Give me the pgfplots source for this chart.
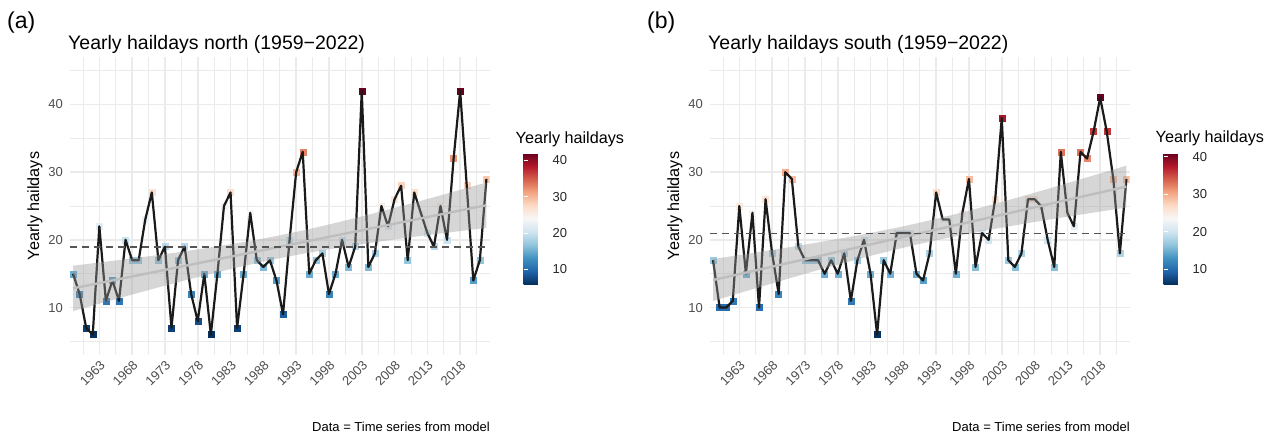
\documentclass[border=0pt]{standalone}
\usepackage{pgfplots}
\pgfplotsset{compat=1.18}
\usepackage{pgfplotstable}
\usepackage{fontspec}
\setmainfont{Liberation Sans}
\definecolor{gridc}{HTML}{EBEBEB}
\definecolor{tickc}{HTML}{4D4D4D}
\definecolor{legc}{HTML}{262626}
\definecolor{linec}{HTML}{1A1A1A}
\definecolor{trendc}{HTML}{BEBEBE}
\definecolor{bandc}{HTML}{999999}
\definecolor{dashc}{HTML}{555555}
\newcommand\fs[1]{\fontsize{#1}{#1}\selectfont}

\pgfplotstableread{
year val
1959 15
1960 12
1961 7
1962 6
1963 22
1964 11
1965 14
1966 11
1967 20
1968 17
1969 17
1970 23
1971 27
1972 17
1973 19
1974 7
1975 17
1976 19
1977 12
1978 8
1979 15
1980 6
1981 15
1982 25
1983 27
1984 7
1985 15
1986 24
1987 17
1988 16
1989 17
1990 14
1991 9
1992 20
1993 30
1994 33
1995 15
1996 17
1997 18
1998 12
1999 15
2000 20
2001 16
2002 19
2003 42
2004 16
2005 18
2006 25
2007 22
2008 26
2009 28
2010 17
2011 27
2012 24
2013 21
2014 19
2015 25
2016 20
2017 32
2018 42
2019 28
2020 14
2021 17
2022 29
}\north

\pgfplotstableread{
year val
1959 17
1960 10
1961 10
1962 11
1963 25
1964 15
1965 24
1966 10
1967 26
1968 18
1969 12
1970 30
1971 29
1972 19
1973 17
1974 17
1975 17
1976 15
1977 17
1978 15
1979 18
1980 11
1981 17
1982 20
1983 15
1984 6
1985 17
1986 15
1987 21
1988 21
1989 21
1990 15
1991 14
1992 18
1993 27
1994 23
1995 23
1996 15
1997 24
1998 29
1999 16
2000 21
2001 20
2002 26
2003 38
2004 17
2005 16
2006 18
2007 26
2008 26
2009 25
2010 20
2011 16
2012 33
2013 24
2014 22
2015 33
2016 32
2017 36
2018 41
2019 36
2020 29
2021 18
2022 29
}\south

\pgfplotsset{
 colormap={rdbu}{rgb255=(5,48,97) rgb255=(33,102,172) rgb255=(67,147,195) rgb255=(146,197,222) rgb255=(209,229,240) rgb255=(247,247,247) rgb255=(253,219,199) rgb255=(244,165,130) rgb255=(214,96,77) rgb255=(178,24,43) rgb255=(103,0,31)},
 panel/.style={
  scale only axis, width=419.9pt, height=298pt, anchor=south west,
  clip marker paths=true,
  xmin=1958.5, xmax=2022.5, ymin=3, ymax=47,
  xtick={1963,1968,...,2018}, minor xtick={1960.5,1965.5,...,2020.5},
  ytick={10,20,30,40}, minor ytick={5,15,...,45},
  grid=both,
  major grid style={draw=gridc, line width=1.6pt},
  minor grid style={draw=gridc, line width=0.8pt},
  axis line style={draw=none},
  major tick length=0pt, minor tick length=0pt,
  xticklabel style={rotate=45, anchor=north east, font=\fs{13}, text=tickc},
  yticklabel style={font=\fs{13}, text=tickc, xshift=-3.5pt},
  /pgf/number format/1000 sep={},
  /pgf/number format/assume math mode=true,
  colormap name=rdbu,
  colorbar,
  colorbar style={
   at={(parent axis.north east)}, anchor=north west, xshift=25.3pt, yshift=-96pt,
   scale only axis, width=22pt, height=131pt,
   ytick={10,20,30,40},
   ytick pos=both, yticklabel pos=right,
   tick align=inside, major tick length=4.5pt,
   ytick style={draw=white, line width=0.8pt},
   axis line style={draw=none},
   yticklabel style={font=\fs{13}, text=legc, xshift=3.5pt},
   /pgf/number format/assume math mode=true,
  },
 },
 pts/.style={scatter, only marks, mark=square*, mark size=3pt,
   scatter src=explicit,
   scatter/use mapped color={draw=mapped color, fill=mapped color}},
 blk/.style={linec, line width=2.2pt, line join=round, mark=none},
 band/.style={draw=none, fill=bandc, fill opacity=0.4},
 trend/.style={trendc, line width=2.4pt},
 mean/.style={dashc, line width=1.6pt, dash pattern=on 7pt off 5pt},
}

\begin{document}
\begin{tikzpicture}
\path[use as bounding box] (0,0) rectangle (1275pt,-437pt);

% ---------------- panel (a)
\begin{axis}[panel, at={(69.8pt,-355pt)}, point meta min=6, point meta max=42]
\addplot[pts] table[x=year, y=val, meta=val] {\north};
\addplot[blk] table[x=year, y=val] {\north};
\addplot[band] coordinates {
 (1959,16.19) (1963,16.66) (1967,17.14) (1971,17.64) (1975,18.17) (1979,18.74)
 (1983,19.35) (1987,20.02) (1990.5,20.67) (1994,21.38) (1998,22.27) (2002,23.22)
 (2006,24.21) (2010,25.24) (2014,26.30) (2018,27.38) (2022,28.47)
 (2022,21.77) (2018,21.30) (2014,20.82) (2010,20.32) (2006,19.79) (2002,19.22)
 (1998,18.61) (1994,17.94) (1990.5,17.29) (1987,16.58) (1983,15.69) (1979,14.74)
 (1975,13.75) (1971,12.72) (1967,11.66) (1963,10.58) (1959,9.49)} -- cycle;
\addplot[trend] coordinates {(1959,12.84) (2022,25.12)};
\addplot[mean] coordinates {(1958.5,18.98) (2022.5,18.98)};
\end{axis}

% ---------------- panel (b)
\begin{axis}[panel, at={(709.8pt,-355pt)}, point meta min=6, point meta max=41]
\addplot[pts] table[x=year, y=val, meta=val] {\south};
\addplot[blk] table[x=year, y=val] {\south};
\addplot[band] coordinates {
 (1959,17.17) (1963,17.76) (1967,18.36) (1971,18.98) (1975,19.63) (1979,20.30)
 (1983,21.02) (1987,21.80) (1990.5,22.54) (1994,23.34) (1998,24.30) (2002,25.34)
 (2006,26.41) (2010,27.52) (2014,28.66) (2018,29.80) (2022,30.97)
 (2022,24.77) (2018,24.18) (2014,23.58) (2010,22.96) (2006,22.31) (2002,21.64)
 (1998,20.92) (1994,20.14) (1990.5,19.40) (1987,18.60) (1983,17.64) (1979,16.60)
 (1975,15.53) (1971,14.42) (1967,13.28) (1963,12.14) (1959,10.97)} -- cycle;
\addplot[trend] coordinates {(1959,14.07) (2022,27.87)};
\addplot[mean] coordinates {(1958.5,20.97) (2022.5,20.97)};
\end{axis}

% ---------------- texts
\begin{scope}[every node/.style={inner sep=0pt}]
\node[anchor=base west, font=\fs{23}] at (7pt,-28.5pt) {(a)};
\node[anchor=base west, font=\fs{23}] at (647pt,-28.5pt) {(b)};
\node[anchor=base west, font=\fs{19.5}] at (68pt,-49.3pt) {Yearly haildays north (1959−2022)};
\node[anchor=base west, font=\fs{19.5}] at (708pt,-49.3pt) {Yearly haildays south (1959−2022)};
\node[rotate=90, font=\fs{16.2}] at (35pt,-206pt) {Yearly haildays};
\node[rotate=90, font=\fs{16.2}] at (675pt,-206pt) {Yearly haildays};
\node[anchor=base west, font=\fs{16.2}] at (515.5pt,-143pt) {Yearly haildays};
\node[anchor=base west, font=\fs{16.2}] at (1155.5pt,-142.5pt) {Yearly haildays};
\node[anchor=base east, font=\fs{13}] at (490pt,-431pt) {Data = Time series from model};
\node[anchor=base east, font=\fs{13}] at (1130pt,-431pt) {Data = Time series from model};
\end{scope}
\end{tikzpicture}
\end{document}
